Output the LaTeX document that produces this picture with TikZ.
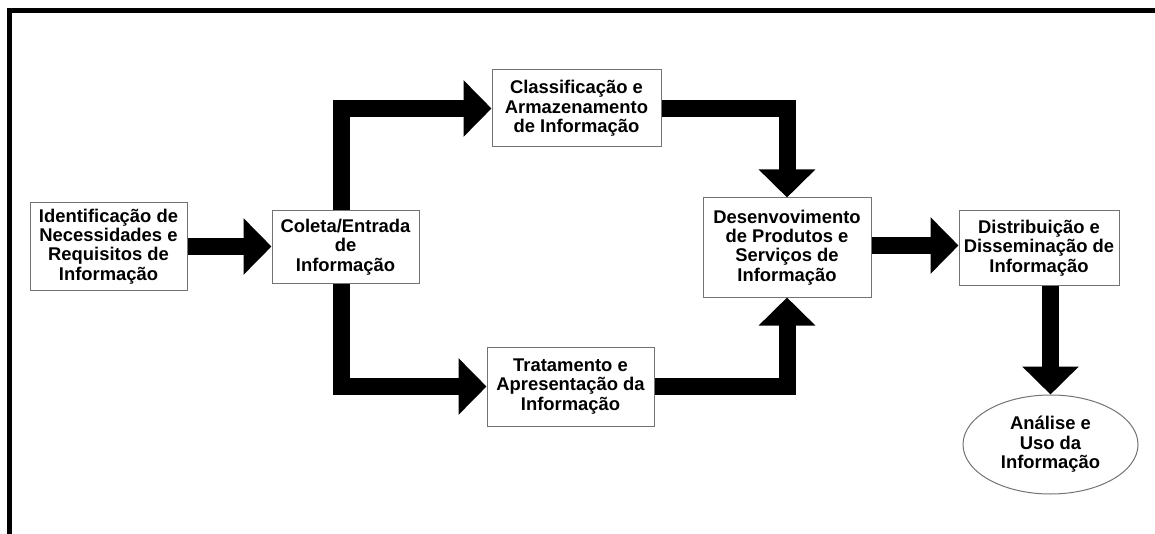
\documentclass[tikz,border=0pt]{standalone}
\usepackage{fontspec}
\setmainfont{Liberation Sans}
\usetikzlibrary{arrows.meta,shapes.geometric}

\begin{document}
\begin{tikzpicture}[x=0.5pt,y=-0.5pt,>={Triangle[width=27.5pt,length=14pt]},
	caixa/.style={draw=black!55,line width=0.5pt,inner sep=0pt,align=center,
		font=\fontsize{9.2}{9.7}\selectfont\bfseries},
	seta/.style={->,line width=8.5pt}]
\useasboundingbox (0,0) rectangle (1155,534);
\draw[line width=2.8pt] (9.5,534) -- (9.5,10.5) -- (1155,10.5);

\node[caixa,minimum width=78.5pt,minimum height=43.5pt] (ident) at (108.5,246.5)
	{Identificação de\\Necessidades e\\Requisitos de\\Informação};
\node[caixa,minimum width=73.5pt,minimum height=36pt] (coleta) at (345.5,247)
	{Coleta/Entrada\\de\\Informação};
\node[caixa,minimum width=84.5pt,minimum height=38.5pt] (classif) at (576.5,108.5)
	{Classificação e\\Armazenamento\\de Informação};
\node[caixa,minimum width=83.5pt,minimum height=39.5pt] (tratam) at (570.5,386.5)
	{Tratamento e\\Apresentação da\\Informação};
\node[caixa,minimum width=84pt,minimum height=49.5pt] (desenv) at (787,247.5)
	{Desenvovimento\\de Produtos e\\Serviços de\\Informação};
\node[caixa,minimum width=80pt,minimum height=37pt] (distrib) at (1039,248)
	{Distribuição e\\Disseminação de\\Informação};
\node[caixa,ellipse,minimum width=87.5pt,minimum height=49.5pt] (analise) at (1050.5,444.5)
	{Análise e\\Uso da\\Informação};

\draw[seta] (ident.east) -- (ident.east -| coleta.west);
\draw[seta] ([xshift=-2pt]coleta.north) |- (classif.west);
\draw[seta] (classif.east) -| (desenv.north);
\draw[seta] ([xshift=-2pt]coleta.south) |- (tratam.west);
\draw[seta] (tratam.east) -| (desenv.south);
\draw[seta] ([yshift=1pt]desenv.east) -- ([yshift=1pt]desenv.east -| distrib.west);
\draw[seta] (analise.north |- distrib.south) -- (analise.north);
\end{tikzpicture}
\end{document}
